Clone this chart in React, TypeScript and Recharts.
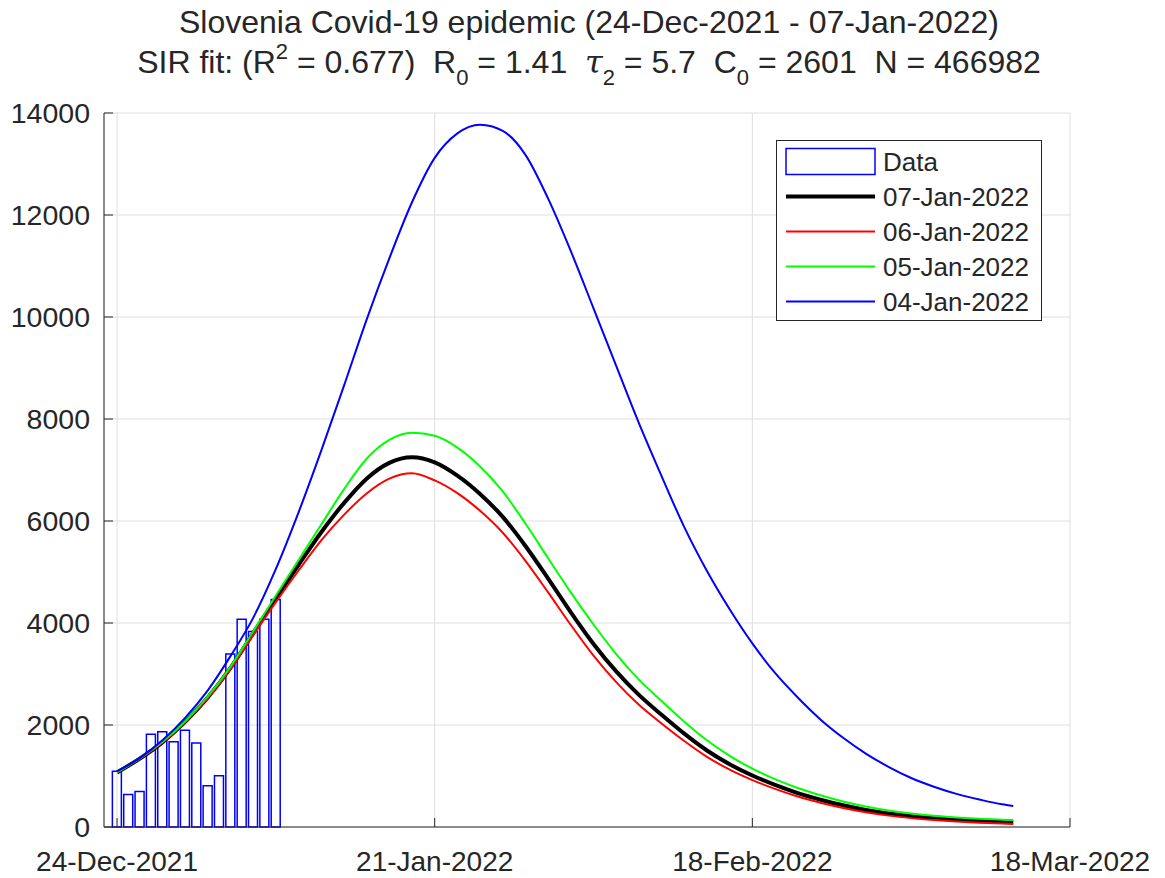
import React from "react";
import {
  ComposedChart,
  Bar,
  Line,
  XAxis,
  YAxis,
  CartesianGrid,
  Legend,
} from "recharts";

const FONT = '"Liberation Sans", Arial, Helvetica, sans-serif';
const INK = "#262626";

// day 0 = 24-Dec-2021
const caseDays = [0, 1, 2, 3, 4, 5, 6, 7, 8, 9, 10, 11, 12, 13, 14];
const cases = [
  1094, 638, 697, 1818, 1870, 1674, 1896, 1648, 808, 1003, 3394, 4072, 3831,
  4072, 4463,
];

// SIR fits, every 2 days
const curveDays = [
  0, 2, 4, 6, 8, 10, 12, 14, 16, 18, 20, 22, 24, 26, 28, 30, 32, 34, 36, 38,
  40, 42, 44, 46, 48, 50, 52, 54, 56, 58, 60, 62, 64, 66, 68, 70, 72, 74, 76,
  78, 79,
];
const fit0107 = [
  1070, 1340, 1660, 2060, 2540, 3120, 3800, 4480, 5140, 5780, 6350, 6830, 7140,
  7250, 7150, 6890, 6530, 6080, 5510, 4870, 4210, 3590, 3050, 2590, 2200, 1830,
  1500, 1230, 1010, 825, 665, 535, 425, 335, 265, 212, 172, 142, 118, 100, 92,
];
const fit0106 = [
  1070, 1340, 1655, 2050, 2525, 3095, 3760, 4410, 5030, 5620, 6120, 6540, 6830,
  6935, 6795, 6545, 6200, 5770, 5220, 4600, 3960, 3360, 2840, 2395, 2030, 1685,
  1375, 1125, 920, 747, 597, 475, 373, 289, 223, 174, 137, 108, 85, 67, 59,
];
const fit0105 = [
  1070, 1345, 1670, 2075, 2560, 3145, 3835, 4540, 5235, 5930, 6620, 7220, 7590,
  7730, 7670, 7440, 7070, 6580, 5950, 5270, 4600, 3970, 3390, 2890, 2470, 2065,
  1700, 1395, 1145, 940, 765, 623, 501, 401, 323, 264, 219, 187, 162, 144, 136,
];
const fit0104 = [
  1090, 1350, 1700, 2140, 2680, 3350, 4100, 5060, 6170, 7380, 8650, 9950,
  11150, 12250, 13120, 13600, 13770, 13650, 13180, 12320, 11290, 10170, 9040,
  7920, 6880, 5880, 5020, 4270, 3600, 3020, 2540, 2110, 1750, 1440, 1180, 960,
  790, 650, 540, 445, 412,
];

const xTickDays = [0, 28, 56, 84];
const xTickLabels = ["24-Dec-2021", "21-Jan-2022", "18-Feb-2022", "18-Mar-2022"];
const yTicks = [0, 2000, 4000, 6000, 8000, 10000, 12000, 14000];

const seriesNames = ["Data", "07-Jan-2022", "06-Jan-2022", "05-Jan-2022", "04-Jan-2022"];
const seriesColors = ["#0000ff", "#000000", "#ff0000", "#00ff00", "#0000ff"];
const seriesWidths = [1.5, 4, 2, 2, 2];

function buildRows() {
  const days = Array.from(new Set([...caseDays, ...curveDays])).sort((a, b) => a - b);
  return days.map((d) => {
    const row: any = { day: d };
    const ci = caseDays.indexOf(d);
    if (ci >= 0) row.cases = cases[ci];
    const k = curveDays.indexOf(d);
    if (k >= 0) {
      row.f0107 = fit0107[k];
      row.f0106 = fit0106[k];
      row.f0105 = fit0105[k];
      row.f0104 = fit0104[k];
    }
    return row;
  });
}

const rows = buildRows();

const XTick = ({ x, y, payload }: any) => {
  const i = xTickDays.indexOf(payload.value);
  return (
    <g>
      <line x1={x} x2={x} y1={y} y2={y - 9} stroke={INK} />
      <text x={x} y={y + 44} textAnchor="middle" fontSize={28} fontFamily={FONT} fill={INK}>
        {i >= 0 ? xTickLabels[i] : ""}
      </text>
    </g>
  );
};

const YTick = ({ x, y, payload }: any) => (
  <g>
    <line x1={x + 14} x2={x + 23} y1={y} y2={y} stroke={INK} />
    <text x={x} y={y} dy="0.35em" textAnchor="end" fontSize={28.5} fontFamily={FONT} fill={INK}>
      {payload.value}
    </text>
  </g>
);

const LegendBox = () => (
  <svg width={266} height={181} style={{ display: "block" }}>
    <rect x={0.5} y={0.5} width={265} height={180} fill="#fff" stroke={INK} />
    {seriesNames.map((name, i) => {
      const cy = 21.5 + 35 * i;
      return (
        <g key={name}>
          {i === 0 ? (
            <rect x={10} y={cy - 13} width={89} height={26} fill="none" stroke={seriesColors[i]} strokeWidth={1.5} />
          ) : (
            <line x1={10} x2={99} y1={cy} y2={cy} stroke={seriesColors[i]} strokeWidth={seriesWidths[i]} />
          )}
          <text x={107} y={cy} dy="0.35em" fontSize={26} fontFamily={FONT} fill={INK}>
            {name}
          </text>
        </g>
      );
    })}
  </svg>
);

export default function App() {
  return (
    <div style={{ position: "relative", width: 1165, height: 878, fontFamily: FONT, background: "#fff" }}>
      <style>{"body{margin:0}"}</style>
      <ComposedChart
        width={1165}
        height={878}
        data={rows}
        margin={{ top: 113, right: 95, bottom: 0, left: 0 }}
      >
        <CartesianGrid stroke="#dedede" />
        <XAxis
          dataKey="day"
          type="number"
          domain={[-1.15, 84]}
          allowDataOverflow
          ticks={xTickDays}
          interval={0}
          height={51}
          tickSize={0}
          tickMargin={0}
          tickLine={false}
          tick={XTick}
          axisLine={{ stroke: INK }}
        />
        <YAxis
          type="number"
          domain={[0, 14000]}
          ticks={yTicks}
          interval={0}
          width={104}
          tickSize={0}
          tickMargin={14}
          tickLine={false}
          tick={YTick}
          axisLine={{ stroke: INK }}
        />
        <Bar
          dataKey="cases"
          name={seriesNames[0]}
          barSize={9}
          fill="none"
          stroke={seriesColors[0]}
          strokeWidth={1.5}
          isAnimationActive={false}
        />
        <Line dataKey="f0107" name={seriesNames[1]} type="monotone" stroke={seriesColors[1]} strokeWidth={4} dot={false} connectNulls isAnimationActive={false} />
        <Line dataKey="f0106" name={seriesNames[2]} type="monotone" stroke={seriesColors[2]} strokeWidth={2} dot={false} connectNulls isAnimationActive={false} />
        <Line dataKey="f0105" name={seriesNames[3]} type="monotone" stroke={seriesColors[3]} strokeWidth={2} dot={false} connectNulls isAnimationActive={false} />
        <Line dataKey="f0104" name={seriesNames[4]} type="monotone" stroke={seriesColors[4]} strokeWidth={2} dot={false} connectNulls isAnimationActive={false} />
        <Legend
          layout="vertical"
          align="center"
          verticalAlign="middle"
          content={LegendBox}
          wrapperStyle={{ left: 776, top: 140, width: 266, height: 181 }}
        />
      </ComposedChart>
      <svg
        width={1165}
        height={100}
        style={{ position: "absolute", left: 0, top: 0, pointerEvents: "none" }}
      >
        <text x={589} y={33} textAnchor="middle" fontSize={32} fontFamily={FONT} fill={INK}>
          Slovenia Covid-19 epidemic (24-Dec-2021 - 07-Jan-2022)
        </text>
        <text x={589} y={73} textAnchor="middle" fontSize={32} fontFamily={FONT} fill={INK} style={{ whiteSpace: "pre" }}>
          {"SIR fit: (R"}
          <tspan dy={-14} fontSize={22}>2</tspan>
          <tspan dy={14}>{" = 0.677)  R"}</tspan>
          <tspan dy={12} fontSize={22}>0</tspan>
          <tspan dy={-12}>{" = 1.41  "}</tspan>
          <tspan fontStyle="italic" fontFamily='"DejaVu Serif", serif'>τ</tspan>
          <tspan dy={12} fontSize={22}>2</tspan>
          <tspan dy={-12}>{" = 5.7  C"}</tspan>
          <tspan dy={12} fontSize={22}>0</tspan>
          <tspan dy={-12}>{" = 2601  N = 466982"}</tspan>
        </text>
      </svg>
    </div>
  );
}
